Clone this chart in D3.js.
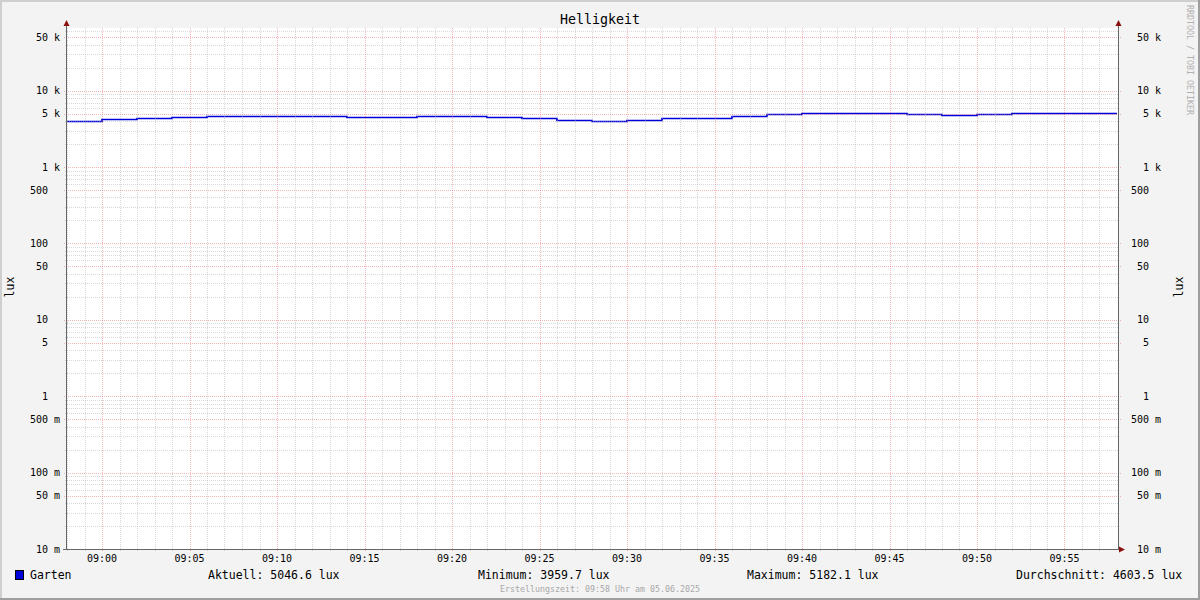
<!DOCTYPE html>
<html><head><meta charset="utf-8">
<script src="https://cdn.jsdelivr.net/npm/d3@7"></script>
<style>
html,body{margin:0;padding:0;background:#f3f3f3;}
svg text{font-family:"DejaVu Sans Mono",monospace;white-space:pre;}
</style></head>
<body><svg id="c" width="1200" height="600"></svg>
<script>
// ---- data ----
const title = "Helligkeit";
const seriesName = "Garten";
const unit = "lux";
const stepTimes = ["08:58","09:00","09:02","09:04","09:06","09:08","09:10","09:12","09:14","09:16",
  "09:18","09:20","09:22","09:24","09:26","09:28","09:30","09:32","09:34","09:36",
  "09:38","09:40","09:42","09:44","09:46","09:48","09:50","09:52","09:54","09:56"];
const stepValues = [3959.7,4210,4340,4510,4650,4650,4650,4650,4510,4510,
  4650,4650,4510,4380,4090,3959.7,4090,4380,4380,4650,
  4900,5046.6,5182.1,5046.6,4900,4750,4900,5046.6,5046.6,5046.6];
const endTime = "09:58";
const yTickValues = [50000,10000,5000,1000,500,100,50,10,5,1,0.5,0.1,0.05,0.01];
const yTickLabels = ["50 k","10 k","5 k","1 k","500  ","100  ","50  ","10  ","5  ","1  ","500 m","100 m","50 m","10 m"];
const legendStats = ["Aktuell: 5046.6 lux","Minimum: 3959.7 lux","Maximum: 5182.1 lux","Durchschnitt: 4603.5 lux"];
const footer = "Erstellungszeit: 09:58 Uhr am 05.06.2025";
const watermark = "RRDTOOL / TOBI OETIKER";

// ---- layout ----
const svg = d3.select("#c");
const L = 67, R = 1118, T = 28, B = 549;
const day = "2025-06-05T";
const parse = s => new Date(day + s + ":00");
const x = d3.scaleTime().domain([parse("08:58"), parse(endTime)]).range([L, R - 1]);
const y = d3.scaleLog().domain([0.01, Math.pow(10, -2 + (B - T) / 76.38)]).range([B, T]);

// background + 3D frame
svg.append("rect").attr("width",1200).attr("height",600).attr("fill","#f3f3f3");
svg.append("rect").attr("x",0).attr("y",0).attr("width",1200).attr("height",2).attr("fill","#cfcfcf");
svg.append("rect").attr("x",0).attr("y",0).attr("width",2).attr("height",600).attr("fill","#cfcfcf");
svg.append("rect").attr("x",0).attr("y",598).attr("width",1200).attr("height",2).attr("fill","#9e9e9e");
svg.append("rect").attr("x",1198).attr("y",0).attr("width",2).attr("height",600).attr("fill","#9e9e9e");
svg.append("rect").attr("x",L).attr("y",T).attr("width",R-L).attr("height",B-T).attr("fill","#ffffff");

// data line
const pts = stepTimes.map((t,i)=>[parse(t), stepValues[i]]);
pts.push([parse(endTime), stepValues[stepValues.length-1]]);
svg.append("path").datum(pts)
  .attr("d", d3.line().x(d=>x(d[0])).y(d=>Math.round(y(d[1]))+0.5).curve(d3.curveStepAfter))
  .attr("fill","none").attr("stroke","#0000dd").attr("stroke-width",1.7);

// grid
const g = svg.append("g");
const minC = "#a8a8a8", minO = 0.45, majC = "#e06060", majO = 0.45;
const minorY = [];
for (let e=-2;e<=4;e++) for (const m of [2,3,4,6,7,8,9]) { const v=m*Math.pow(10,e); if (y(v)>=T) minorY.push(v); }
g.selectAll(".hmin").data(minorY).join("line")
  .attr("x1",L-2).attr("x2",R).attr("y1",d=>Math.round(y(d))+0.5).attr("y2",d=>Math.round(y(d))+0.5)
  .attr("stroke",minC).attr("stroke-opacity",minO).attr("stroke-dasharray","1,1");
const minorX = d3.timeMinute.every(1).range(parse("08:58"), parse(endTime)).filter(d=>d.getMinutes()%5!==0);
g.selectAll(".vmin").data(minorX).join("line")
  .attr("x1",d=>Math.round(x(d))+0.5).attr("x2",d=>Math.round(x(d))+0.5).attr("y1",T).attr("y2",B+2)
  .attr("stroke",minC).attr("stroke-opacity",minO).attr("stroke-dasharray","1,1");
g.selectAll(".hmaj").data(yTickValues).join("line")
  .attr("x1",L-3).attr("x2",R+3).attr("y1",d=>Math.round(y(d))+0.5).attr("y2",d=>Math.round(y(d))+0.5)
  .attr("stroke",majC).attr("stroke-opacity",majO).attr("stroke-dasharray","1,1");
const majorX = d3.timeMinute.every(5).range(parse("08:58"), parse(endTime));
g.selectAll(".vmaj").data(majorX).join("line")
  .attr("x1",d=>Math.round(x(d))+0.5).attr("x2",d=>Math.round(x(d))+0.5).attr("y1",T).attr("y2",B+3)
  .attr("stroke",majC).attr("stroke-opacity",majO).attr("stroke-dasharray","1,1");

// axes lines
const axC = "#666666", arC = "#8b1010";
svg.append("line").attr("x1",L-0.5).attr("x2",L-0.5).attr("y1",B+1).attr("y2",22).attr("stroke",axC);
svg.append("line").attr("x1",R+0.5).attr("x2",R+0.5).attr("y1",B+1).attr("y2",22).attr("stroke",axC);
svg.append("line").attr("x1",L-4).attr("x2",R+2).attr("y1",B+0.5).attr("y2",B+0.5).attr("stroke",axC);
svg.append("path").attr("d",`M${L-3.5},26 L${L-0.5},20 L${L+2.5},26 Z`).attr("fill",arC);
svg.append("path").attr("d",`M${R-2.5},26 L${R+0.5},20 L${R+3.5},26 Z`).attr("fill",arC);
svg.append("path").attr("d",`M${R+1},${B-2.5} L${R+7},${B+0.5} L${R+1},${B+3.5} Z`).attr("fill",arC);

// y labels
svg.selectAll(".yl").data(yTickValues).join("text")
  .attr("x",60).attr("y",d=>y(d)).attr("dy","0.35em").attr("text-anchor","end")
  .attr("font-size",10).attr("fill","#000").text((d,i)=>yTickLabels[i]);
svg.selectAll(".yr").data(yTickValues).join("text")
  .attr("x",1161).attr("y",d=>y(d)).attr("dy","0.35em").attr("text-anchor","end")
  .attr("font-size",10).attr("fill","#000").text((d,i)=>yTickLabels[i]);
// x labels
const xLabelTimes = majorX.filter(d=>x(d)>L+5);
svg.selectAll(".xl").data(xLabelTimes).join("text")
  .attr("x",d=>x(d)).attr("y",562).attr("text-anchor","middle")
  .attr("font-size",10).attr("fill","#000").text(d3.timeFormat("%H:%M"));

// title
svg.append("text").attr("x",600).attr("y",23.5).attr("text-anchor","middle").attr("font-size",13.3).attr("fill","#000").text(title);
// unit labels
svg.append("text").attr("transform","translate(14,287) rotate(-90)").attr("text-anchor","middle").attr("font-size",11.5).attr("fill","#000").text(unit);
svg.append("text").attr("transform","translate(1183,287) rotate(-90)").attr("text-anchor","middle").attr("font-size",11.5).attr("fill","#000").text(unit);
// watermark
svg.append("text").attr("transform","translate(1187,5) rotate(90)").attr("text-anchor","start").attr("font-size",8.3).attr("fill","#b0b0b0").text(watermark);

// legend
svg.append("rect").attr("x",15.5).attr("y",570.5).attr("width",8).attr("height",9).attr("fill","#0000dd").attr("stroke","#000");
svg.append("text").attr("x",30).attr("y",579).attr("font-size",11.5).attr("fill","#000").text(seriesName);
const statX = [208,478,747,1016];
svg.selectAll(".st").data(legendStats).join("text")
  .attr("x",(d,i)=>statX[i]).attr("y",579).attr("font-size",11.5).attr("fill","#000").text(d=>d);
svg.append("text").attr("x",600).attr("y",592).attr("text-anchor","middle").attr("font-size",8.3).attr("fill","#a8a8a8").text(footer);
</script></body></html>
